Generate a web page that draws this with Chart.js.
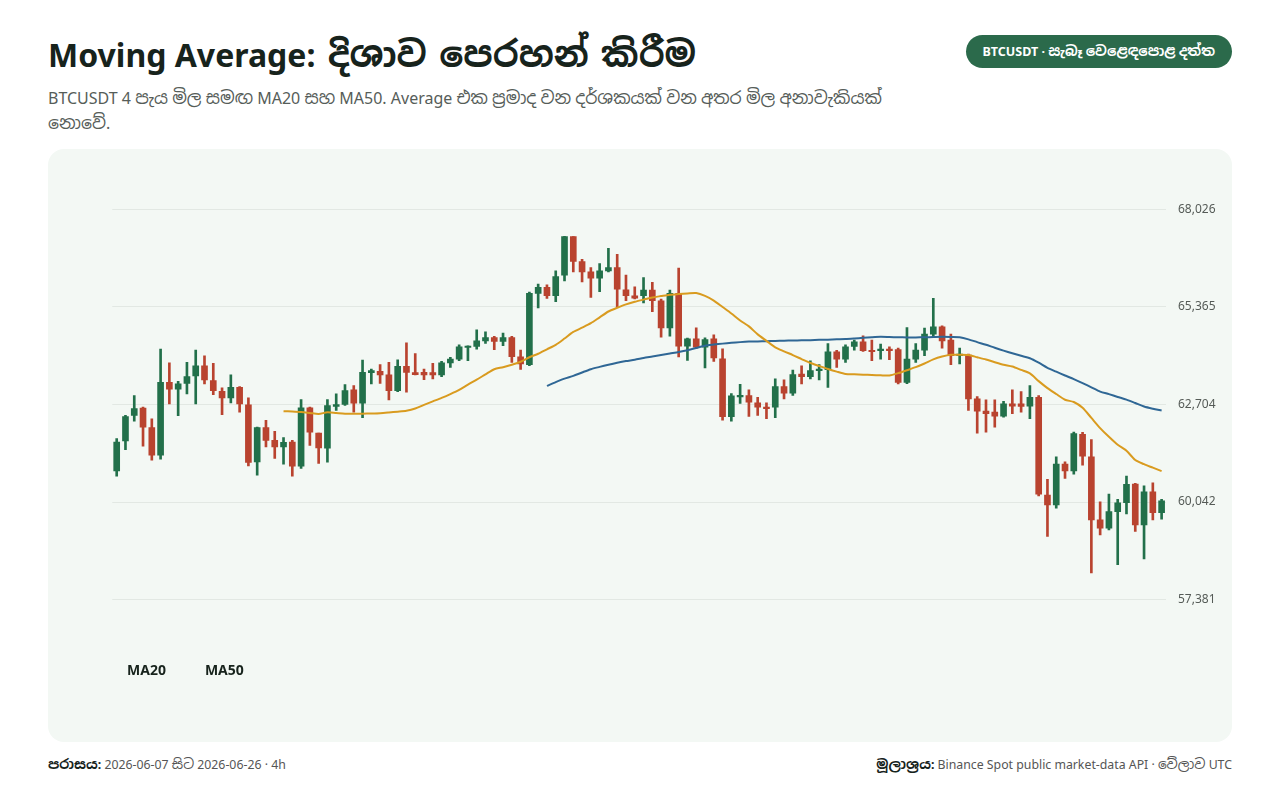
<!DOCTYPE html>
<html lang="si">
<head>
<meta charset="utf-8">
<title>Moving Average</title>
<script src="https://cdn.jsdelivr.net/npm/chart.js@4.4.3/dist/chart.umd.min.js"></script>
<style>
  html, body { margin: 0; padding: 0; background: #fff; }
  body {
    width: 1280px; height: 800px; position: relative; overflow: hidden;
    font-family: "Noto Sans", "Open Sans", sans-serif;
    color: #17231c;
  }
  .si { font-family: "Noto Sans Sinhala", "Noto Sans", sans-serif; font-size: 1.12em; }
  h1 {
    position: absolute; left: 48px; top: 32px; margin: 0;
    font-size: 32px; font-weight: 700; line-height: 46px;
    white-space: nowrap;
  }
  h1 .si { margin-left: 4px; }
  .sub {
    position: absolute; left: 48px; top: 86px; width: 870px; margin: 0;
    font-size: 16px; line-height: 25px; color: #565d59;
  }
  .sub .si { font-size: 1.08em; }
  .badge {
    position: absolute; right: 48px; top: 35px; height: 33px; padding: 0 17px;
    border-radius: 17px; background: #2b6a4b; color: #fff;
    font-size: 12.5px; font-weight: 700; line-height: 33px; white-space: nowrap;
  }
  .panel {
    position: absolute; left: 48px; top: 149px; width: 1184px; height: 593px;
    border-radius: 16px; background: #f3f8f4;
  }
  .panel canvas { position: absolute; left: 0; top: 0; }
  .foot { position: absolute; top: 755px; font-size: 12.3px; line-height: 18px; color: #555; white-space: nowrap; }
  .foot b { color: #17231c; }
  .foot.left { left: 48px; }
  .foot.right { right: 48px; }
</style>
</head>
<body>
  <h1 class="txt">Moving Average: දිශාව පෙරහන් කිරීම</h1>
  <p class="sub txt">BTCUSDT 4 පැය මිල සමඟ MA20 සහ MA50. Average එක ප්‍රමාද වන දර්ශකයක් වන අතර මිල අනාවැකියක් නොවේ.</p>
  <div class="badge txt">BTCUSDT · සැබෑ වෙළෙඳපොළ දත්ත</div>
  <div class="panel"><canvas id="maChart" width="1184" height="593"></canvas></div>
  <div class="foot left txt"><b>පරාසය:</b> 2026-06-07 සිට 2026-06-26 · 4h</div>
  <div class="foot right txt"><b>මූලාශ්‍රය:</b> Binance Spot public market-data API · වේලාව UTC</div>

<script>
// ─────────────────────────────────────────────────────────────────────────────
// Data (BTCUSDT 4h, 2026-06-07 → 2026-06-26, 120 candles)
// ─────────────────────────────────────────────────────────────────────────────

const START_UTC = Date.UTC(2026, 5, 7, 0, 0);
const CANDLES = 120;
const labels = [];
for (let i = 0; i < CANDLES; i++) {
  labels.push(new Date(START_UTC + i * 4 * 3600 * 1000).toISOString().slice(0, 16).replace('T', ' '));
}

const opens = [
  60892, 61707, 62405, 62603, 62071, 61318, 63309, 63119, 63282, 63483,
  63762, 63355, 63065, 62885, 63173, 62695, 61136, 62071, 61726, 61544,
  61680, 61020, 62614, 61924, 61509, 62649, 62703, 63103, 62739, 63572,
  63608, 63510, 63084, 63743, 63572, 63580, 63572, 63510, 63836, 63944,
  64259, 64287, 64441, 64531, 64422, 64531, 64007, 63790, 65737, 65900,
  65672, 66234, 67285, 66606, 66323, 66152, 66350, 66443, 65834, 65672,
  65672, 65826, 65536, 64794, 65737, 64297, 64496, 64270, 64496, 63953,
  62369, 62912, 62948, 62750, 62630, 62630, 63192, 63010, 63537, 63464,
  63627, 63654, 64143, 63944, 64287, 64414, 64170, 64170, 64216, 64205,
  63309, 63944, 64189, 64623, 64822, 64460, 64034, 64053, 62858, 62521,
  62494, 62386, 62722, 62722, 62657, 62902, 60232, 59961, 61074, 60892,
  61889, 61272, 59553, 59328, 59779, 60023, 60531, 59417, 60322, 59752,
];

const highs = [
  61772, 62405, 62948, 62630, 62315, 64216, 63844, 63336, 63852, 64189,
  64034, 63825, 63157, 63510, 63192, 62885, 62087, 62269, 61970, 61799,
  61726, 62839, 62630, 61924, 62839, 62994, 63246, 63219, 63917, 63673,
  63790, 63852, 63925, 64387, 64096, 63673, 63825, 63879, 63988, 64333,
  64306, 64740, 64686, 64564, 64650, 64564, 64189, 65772, 65989, 65970,
  66350, 67294, 67285, 66668, 66443, 66551, 66967, 66804, 66234, 65916,
  66171, 66035, 65582, 65826, 66424, 64515, 64794, 64523, 64604, 64224,
  63002, 63255, 63103, 62902, 62750, 63401, 63374, 63646, 63762, 63898,
  63790, 64368, 64183, 64333, 64460, 64577, 64460, 64352, 64278, 64243,
  64803, 64368, 64786, 65601, 64849, 64623, 64243, 64080, 62921, 62831,
  62831, 62793, 63103, 63056, 63219, 62948, 60659, 61272, 61136, 61951,
  61943, 61745, 60050, 60259, 60115, 60748, 60550, 60485, 60566, 60115,
];

const lows = [
  60748, 61473, 62250, 61563, 61183, 61210, 62722, 62397, 62994, 62722,
  63265, 62975, 62424, 62750, 62494, 61028, 60775, 61544, 61229, 61074,
  60748, 60957, 61590, 61093, 61128, 62540, 62676, 62494, 62342, 63265,
  63282, 62831, 63056, 63037, 63510, 63382, 63401, 63464, 63716, 63898,
  63898, 64216, 64368, 64197, 64306, 63852, 63662, 63762, 65337, 65601,
  65509, 66079, 66323, 66052, 65628, 65780, 66323, 65357, 65536, 65582,
  65473, 65237, 64542, 64569, 63999, 63906, 64224, 63700, 63879, 62277,
  62250, 62730, 62378, 62405, 62315, 62342, 62858, 62948, 63265, 63401,
  63374, 63173, 63716, 63852, 64189, 64151, 63898, 63944, 63925, 63265,
  63274, 63852, 64034, 64550, 64243, 63790, 63809, 62540, 61924, 61951,
  62087, 62359, 62451, 62494, 62315, 60205, 59100, 59871, 60686, 60802,
  61047, 58106, 59146, 59282, 58331, 59716, 59236, 58486, 59553, 59572,
];

const closes = [
  61680, 62377, 62595, 62087, 61318, 63309, 63119, 63265, 63464, 63762,
  63374, 63084, 62885, 63173, 62722, 61120, 62071, 61726, 61544, 61671,
  61020, 62614, 61951, 61517, 62676, 62703, 63084, 62739, 63580, 63627,
  63510, 63084, 63743, 63580, 63518, 63510, 63510, 63844, 63944, 64278,
  64287, 64441, 64531, 64422, 64531, 64007, 63809, 65737, 65900, 65672,
  66198, 67285, 66606, 66323, 66152, 66350, 66443, 65853, 65672, 65609,
  65826, 65536, 64794, 65737, 64297, 64496, 64270, 64477, 63972, 62369,
  62940, 62940, 62766, 62630, 62587, 63192, 63010, 63518, 63464, 63627,
  63654, 64143, 63944, 64278, 64414, 64170, 64143, 64216, 64170, 63309,
  63944, 64189, 64623, 64822, 64441, 64034, 64080, 62858, 62521, 62451,
  62386, 62722, 62657, 62649, 62902, 60259, 59961, 61074, 60892, 61908,
  61291, 59553, 59328, 59779, 60023, 60523, 59417, 60322, 59752, 60077,
];

// MA20 starts on candle 20, MA50 on candle 50
const ma20 = Array(19).fill(null).concat([
  62521, 62513, 62500, 62473, 62445, 62492, 62473, 62454, 62451, 62454,
  62459, 62467, 62486, 62508, 62535, 62595, 62695, 62790, 62885, 62989,
  63103, 63246, 63382, 63526, 63667, 63722, 63790, 63871, 63993, 64088,
  64211, 64333, 64504, 64686, 64800, 64922, 65082, 65242, 65343, 65435,
  65506, 65566, 65625, 65663, 65699, 65718, 65734, 65745, 65669, 65541,
  65365, 65188, 64998, 64835, 64618, 64441, 64265, 64154, 64053, 63944,
  63836, 63754, 63673, 63600, 63537, 63526, 63518, 63507, 63499, 63496,
  63559, 63640, 63722, 63822, 63934, 64012, 64061, 64061, 64053, 63993,
  63931, 63858, 63790, 63741, 63648, 63551, 63342, 63151, 62989, 62834,
  62771, 62614, 62337, 62060, 61821, 61604, 61441, 61188, 61074, 60979,
  60884,
]);

const ma50 = Array(49).fill(null).concat([
  63211, 63314, 63409, 63485, 63578, 63667, 63730, 63790, 63844, 63890,
  63925, 63972, 64012, 64053, 64094, 64134, 64183, 64246, 64306, 64338,
  64365, 64387, 64406, 64420, 64425, 64433, 64439, 64444, 64450, 64455,
  64460, 64469, 64474, 64482, 64488, 64504, 64523, 64539, 64550, 64545,
  64539, 64534, 64534, 64539, 64545, 64550, 64545, 64536, 64482, 64406,
  64333, 64251, 64175, 64102, 64034, 63966, 63844, 63703, 63600, 63496,
  63396, 63287, 63173, 63056, 62986, 62910, 62836, 62744, 62649, 62589,
  62540,
]);

const yTicks = [57381, 60042, 62704, 65365, 68026];

// ─────────────────────────────────────────────────────────────────────────────
// Sinhala runs get Noto Sans Sinhala; Latin and spaces stay in Noto Sans
// ─────────────────────────────────────────────────────────────────────────────

function wrapSinhala(el) {
  const walker = document.createTreeWalker(el, NodeFilter.SHOW_TEXT);
  const nodes = [];
  while (walker.nextNode()) nodes.push(walker.currentNode);
  nodes.forEach(n => {
    if (!/[\u0D80-\u0DFF]/.test(n.nodeValue)) return;
    const frag = document.createDocumentFragment();
    n.nodeValue.split(/([\u0D80-\u0DFF\u200C\u200D]+)/).forEach((part, i) => {
      if (!part) return;
      if (i % 2) {
        const s = document.createElement('span');
        s.className = 'si';
        s.textContent = part;
        frag.appendChild(s);
      } else {
        frag.appendChild(document.createTextNode(part));
      }
    });
    n.parentNode.replaceChild(frag, n);
  });
}
document.querySelectorAll('.txt').forEach(wrapSinhala);

// ─────────────────────────────────────────────────────────────────────────────
// Chart
// ─────────────────────────────────────────────────────────────────────────────

const UP = '#22704a';
const DOWN = '#b9432f';
const MA20_COLOR = '#d99b1f';
const MA50_COLOR = '#2f6795';
const tickFont = { size: 12, family: "'Noto Sans', 'Open Sans', sans-serif" };

const candleColors = closes.map((c, i) => (c >= opens[i] ? UP : DOWN));

const ctx = document.getElementById('maChart').getContext('2d');

new Chart(ctx, {
  type: 'bar',
  data: {
    labels,
    datasets: [
      {
        type: 'line',
        label: 'MA20',
        data: ma20,
        yAxisID: 'y',
        borderColor: MA20_COLOR,
        backgroundColor: 'transparent',
        borderWidth: 2,
        pointRadius: 0,
        tension: 0.25,
        order: 0,
      },
      {
        type: 'line',
        label: 'MA50',
        data: ma50,
        yAxisID: 'y',
        borderColor: MA50_COLOR,
        backgroundColor: 'transparent',
        borderWidth: 2,
        pointRadius: 0,
        tension: 0.25,
        order: 0,
      },
      {
        label: 'body',
        data: opens.map((o, i) => [o, closes[i]]),
        yAxisID: 'y',
        backgroundColor: candleColors,
        borderWidth: 0,
        borderSkipped: false,
        barThickness: 6,
        minBarLength: 1.5,
        grouped: false,
        order: 1,
      },
      {
        label: 'wick',
        data: lows.map((l, i) => [l, highs[i]]),
        yAxisID: 'y',
        backgroundColor: candleColors,
        borderWidth: 0,
        borderSkipped: false,
        barThickness: 2,
        grouped: false,
        order: 2,
      },
    ],
  },
  options: {
    responsive: false,
    animation: false,
    layout: { padding: { left: 40, right: 16, top: 60.5, bottom: 53.5 } },
    plugins: {
      tooltip: { enabled: false },
      legend: {
        position: 'bottom',
        align: 'start',
        labels: {
          boxWidth: 10,
          boxHeight: 12,
          padding: 22,
          color: '#17231c',
          font: { size: 14, weight: 'bold', family: "'Noto Sans', 'Open Sans', sans-serif" },
          filter: item => item.text === 'MA20' || item.text === 'MA50',
          generateLabels: chart =>
            Chart.defaults.plugins.legend.labels.generateLabels(chart).map(l => ({
              ...l,
              fillStyle: 'rgba(0,0,0,0)',
              strokeStyle: 'rgba(0,0,0,0)',
              lineWidth: 0,
            })),
        },
      },
    },
    scales: {
      x: {
        offset: true,
        grid: { display: false },
        border: { display: false },
        ticks: { display: false },
        afterFit: s => { s.height = 43; },
      },
      y: {
        position: 'right',
        min: yTicks[0],
        max: yTicks[yTicks.length - 1],
        border: { display: false },
        grid: { color: 'rgba(30,50,40,0.08)', drawTicks: false },
        afterBuildTicks: s => { s.ticks = yTicks.map(v => ({ value: v })); },
        afterFit: s => { s.width = 50; },
        ticks: {
          color: '#555b57',
          font: tickFont,
          padding: 12,
          callback: v => Number(v).toLocaleString('en-US'),
        },
      },
      // spacer on the left so the plot starts where the legend is indented
      yl: {
        type: 'linear',
        position: 'left',
        grid: { display: false },
        border: { display: false },
        ticks: { display: false },
        afterFit: s => { s.width = 24.3; },
      },
    },
  },
});
</script>
</body>
</html>
